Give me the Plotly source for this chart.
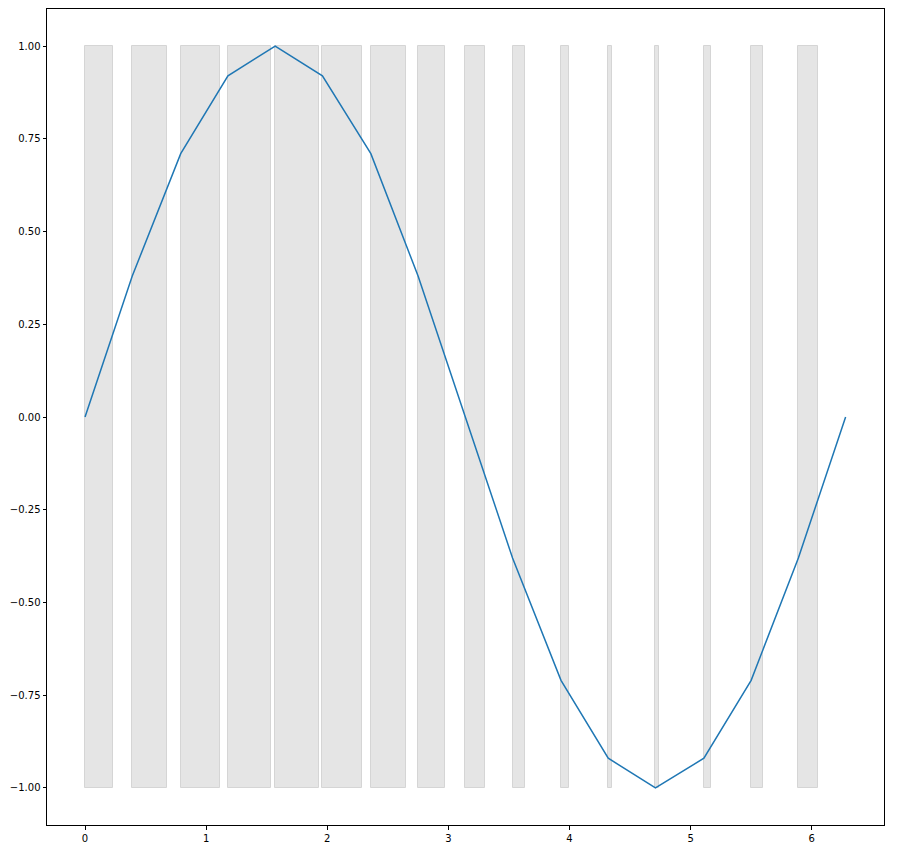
import plotly.graph_objects as go

# Line series
line_x = [0.00, 0.39, 0.79, 1.18, 1.57, 1.96, 2.36, 2.75, 3.14, 3.53, 3.93, 4.32, 4.71, 5.11, 5.50, 5.89, 6.28]
line_y = [0.00, 0.38, 0.71, 0.92, 1.00, 0.92, 0.71, 0.38, 0.00, -0.38, -0.71, -0.92, -1.00, -0.92, -0.71, -0.38, 0.00]

# Gray bars: left edge and width, spanning -1 .. 1
bar_left = [0.00, 0.39, 0.79, 1.18, 1.57, 1.96, 2.36, 2.75, 3.14, 3.53, 3.93, 4.32, 4.71, 5.11, 5.50, 5.89]
bar_width = [0.230, 0.285, 0.327, 0.355, 0.362, 0.325, 0.288, 0.222, 0.165, 0.104, 0.066, 0.030, 0.033, 0.055, 0.099, 0.165]
bar_bottom = -1.0
bar_top = 1.0

x_ticks = [0, 1, 2, 3, 4, 5, 6]
y_ticks = [-1.00, -0.75, -0.50, -0.25, 0.00, 0.25, 0.50, 0.75, 1.00]
y_tick_text = ["\u22121.00", "\u22120.75", "\u22120.50", "\u22120.25", "0.00", "0.25", "0.50", "0.75", "1.00"]

fig = go.Figure()
fig.add_trace(go.Bar(
    x=[l + w / 2 for l, w in zip(bar_left, bar_width)],
    y=[bar_top - bar_bottom] * len(bar_left),
    base=[bar_bottom] * len(bar_left),
    width=bar_width,
    marker=dict(color="#e5e5e5", line=dict(color="#d5d5d5", width=1)),
    hoverinfo="skip",
    showlegend=False,
))
fig.add_trace(go.Scatter(
    x=line_x, y=line_y, mode="lines",
    line=dict(color="#1f77b4", width=1.5),
    showlegend=False,
))

axis_common = dict(
    showgrid=False, zeroline=False, showline=True, linecolor="black", linewidth=1,
    mirror=True, ticks="outside", ticklen=3.5, tickwidth=1, tickcolor="black",
    tickfont=dict(family="DejaVu Sans", size=10, color="black"),
)
fig.update_xaxes(range=[-0.314, 6.597], tickvals=x_ticks, ticktext=[str(t) for t in x_ticks], **axis_common)
fig.update_yaxes(range=[-1.1, 1.1], tickvals=y_ticks, ticktext=y_tick_text, **axis_common)

fig.update_layout(
    width=896, height=844,
    margin=dict(l=39, r=20, t=1, b=27),
    paper_bgcolor="white", plot_bgcolor="white",
    bargap=0,
)
fig.write_html("out.html")
